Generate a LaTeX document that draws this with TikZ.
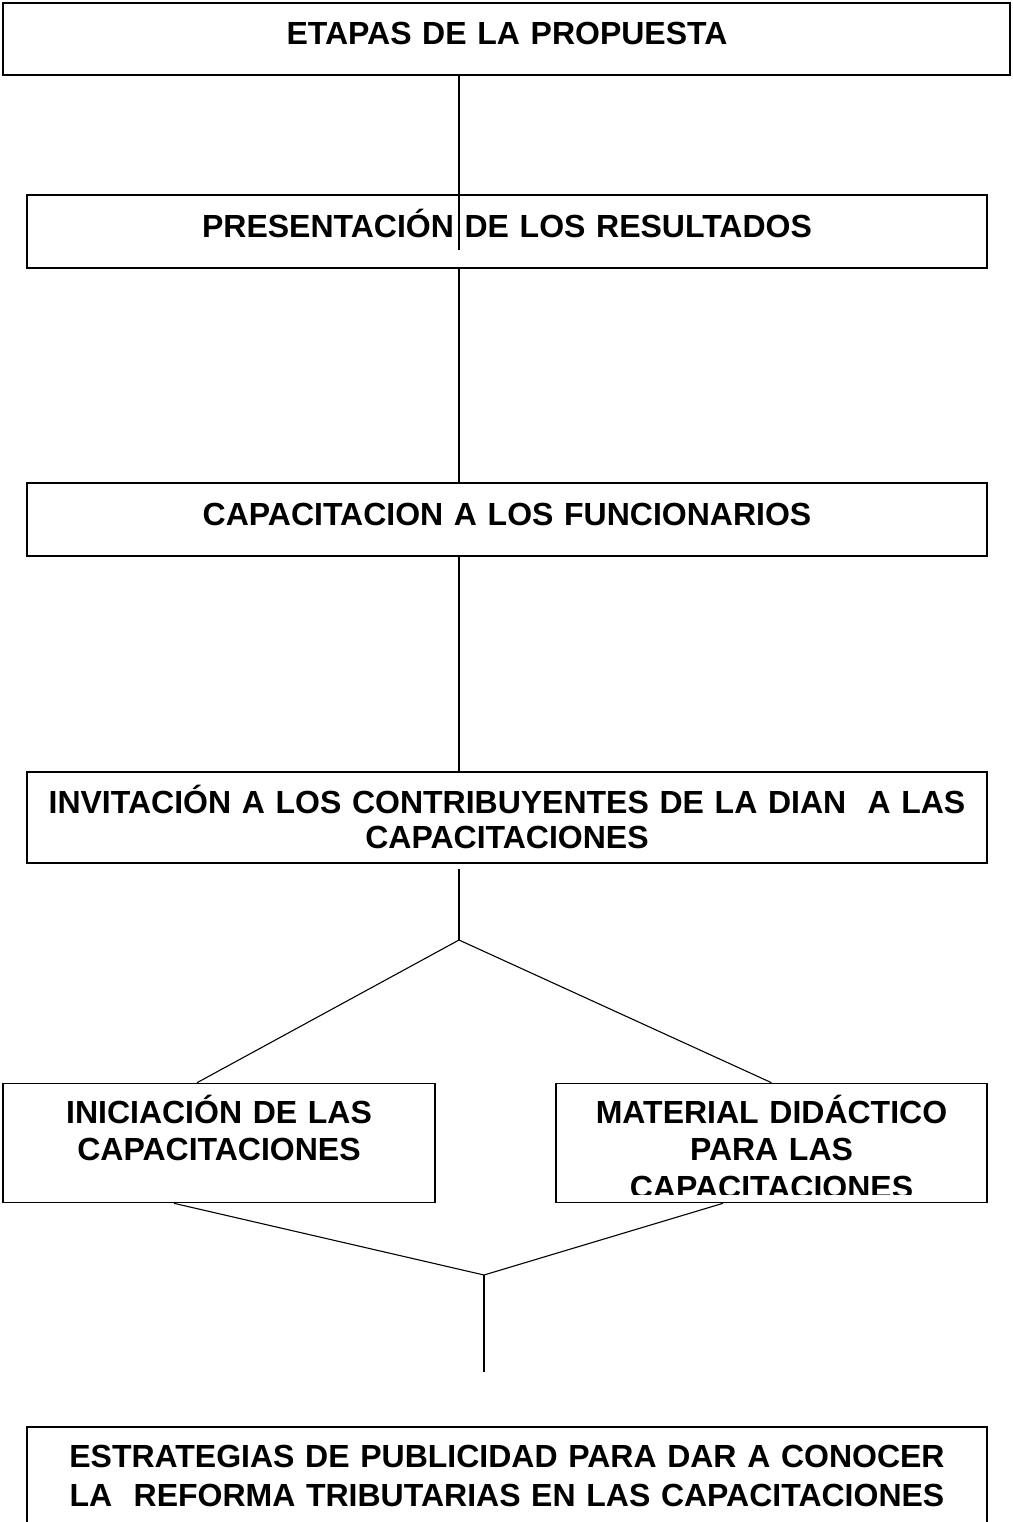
\documentclass[tikz,border=0pt]{standalone}
\usepackage{fontspec}
\setmainfont{Liberation Sans}
\usepackage{tikz}
\usetikzlibrary{calc,positioning}

\tikzset{
  box/.style={draw=black, line width=1.6pt, rectangle, inner sep=0pt},
  txt/.style={anchor=base, align=center, inner sep=0pt,
    font=\fontsize{32}{35}\selectfont\bfseries}
}

\begin{document}
\begin{tikzpicture}[x=1pt, y=-1pt, line width=1.1pt]
   \clip (0,0) rectangle (1012,1522);
   \useasboundingbox (0,0) rectangle (1012,1522);
   \begin{scope}[every node/.style={box}]
    \node (etapas) [minimum width=1007pt, minimum height=72pt] at (506.5,39) {};
    \node (resultados) [minimum width=960pt, minimum height=73pt] at (507,231.5) {};
    \node (funcionarios) [minimum width=960pt, minimum height=73pt] at (507,519.5) {};
    \node (invitacion) [minimum width=960pt, minimum height=91pt] at (507,817.5) {};
    \node (iniciacion) [minimum width=432pt, minimum height=119pt] at (219,1143) {};
    \node (material) [minimum width=431pt, minimum height=119pt] at (771.5,1143) {};
    \node (estrategias) [minimum width=960pt, minimum height=133pt] at (507,1493.5) {};
   \end{scope}
   \begin{scope}[every node/.style={txt}]
    \node (etapasT) [text width=1000pt] at (507,45) {ETAPAS DE LA PROPUESTA};
    \node (resultadosT) [text width=950pt] at (507,237) {PRESENTACIÓN DE LOS RESULTADOS};
    \node (funcionariosT) [text width=950pt] at (507,525) {CAPACITACION A LOS FUNCIONARIOS};
    \node (invitacionT) [text width=950pt] at (507,813)
      {INVITACIÓN A LOS CONTRIBUYENTES DE LA DIAN~~A LAS\\CAPACITACIONES};
    \node (iniciacionT) [text width=420pt, font=\fontsize{32}{37}\selectfont\bfseries]
      at (219,1123) {INICIACIÓN DE LAS\\CAPACITACIONES};
    \node (estrategiasT) [text width=950pt, font=\fontsize{32}{39}\selectfont\bfseries]
      at (507,1467) {ESTRATEGIAS DE PUBLICIDAD PARA DAR A CONOCER\\LA~~REFORMA TRIBUTARIAS EN LAS CAPACITACIONES};
   \end{scope}
   % texto cortado por el borde de la caja
   \begin{scope}
    \clip (material.north west) rectangle ($(material.south east)+(0,-9)$);
    \node (materialT) [txt, text width=420pt, font=\fontsize{32}{37.5}\selectfont\bfseries]
      at (771.5,1123) {MATERIAL DIDÁCTICO\\PARA LAS\\CAPACITACIONES};
   \end{scope}
   \coordinate (stub) at (459,250);
   \coordinate (fork) at (459,940);
   \coordinate (join) at (484,1275);
   \coordinate (tail) at (484,1372);
   \begin{scope}[every edge/.style={draw=black, line width=1.1pt}]
    \draw (etapas.south -| fork) edge (stub);
    \draw (resultados.south -| fork) edge (funcionarios.north -| fork);
    \draw (funcionarios.south -| fork) edge (invitacion.north -| fork);
    \draw ($(invitacion.south -| fork)+(0,5)$) edge (fork);
    \draw (fork) edge ($(iniciacion.north)+(-22,0)$);
    \draw (fork) edge (material.north);
    \draw ($(iniciacion.south)+(-45,0)$) edge (join);
    \draw ($(material.south)+(-48.5,0)$) edge (join);
    \draw (join) edge (tail);
   \end{scope}
\end{tikzpicture}
\end{document}
